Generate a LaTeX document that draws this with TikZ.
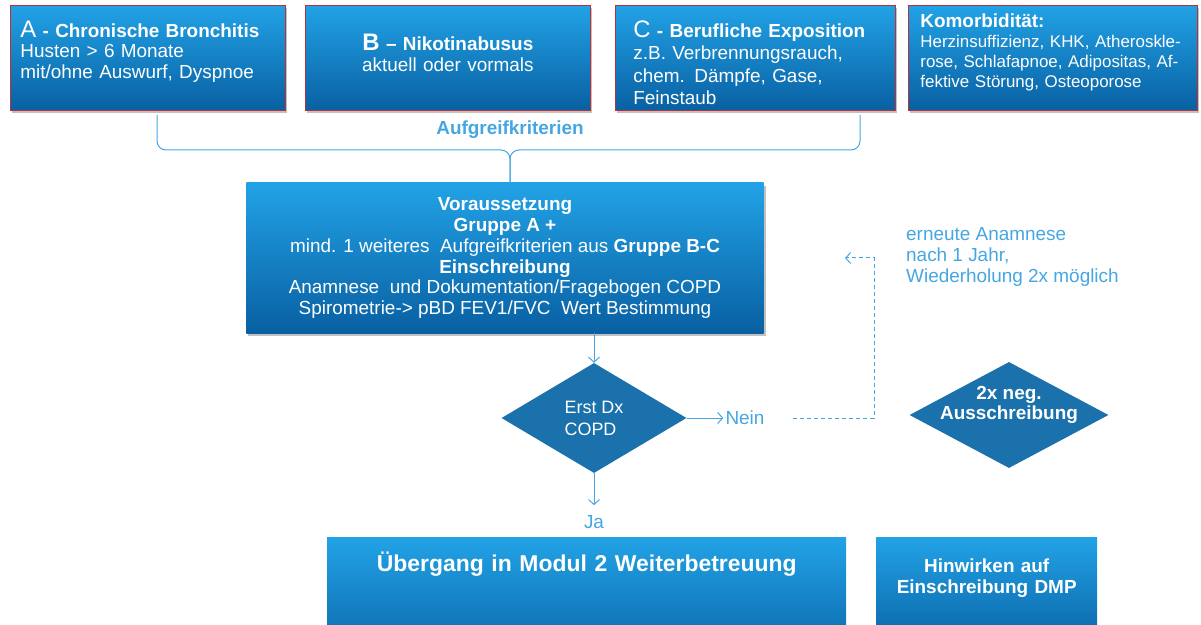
\documentclass[tikz,border=0pt]{standalone}
\usepackage{fontspec}
\setmainfont{Liberation Sans}
\usetikzlibrary{shapes.geometric,shadows,arrows.meta}
\definecolor{boxtop}{HTML}{22A2E6}
\definecolor{boxbot}{HTML}{0860A2}
\definecolor{rhomb}{HTML}{1A71AB}
\definecolor{lineblue}{HTML}{45A6E2}
\definecolor{frame}{HTML}{B5323C}
\tikzset{
  every node/.style={font=\fontsize{19}{21.5}\selectfont},
  bluebox/.style={rectangle, top color=boxtop, bottom color=boxbot, text=white, inner sep=0pt},
  boxshadow/.style={drop shadow={shadow xshift=2bp, shadow yshift=-3bp, opacity=.35, fill=black!70}},
  topbox/.style={bluebox, boxshadow, draw=frame, line width=0.8bp, anchor=north west},
  decision/.style={diamond, fill=rhomb, text=white, inner sep=0pt, align=center},
  note/.style={text=lineblue, inner sep=2bp},
  flow/.style={draw=lineblue, line width=1bp, -{Straight Barb[length=5bp,width=11bp]}},
  feedback/.style={flow, dash pattern=on 4bp off 3bp},
  bracket/.style={draw=lineblue, line width=1bp, rounded corners=9bp}
}
\begin{document}
\begin{tikzpicture}[x=1bp,y=-1bp]
  \useasboundingbox (0,0) rectangle (1201,625);
  \clip (0,0) rectangle (1201,625);
  % Aufgreifkriterien (top row)
  \node[topbox, inner xsep=10bp, text width=255bp, align=left, text height=32bp, text depth=73bp]
    (critA) at (10,5) {{\fontsize{24}{24}\selectfont A} \textbf{- Chronische Bronchitis}\\[-1.5bp]
    Husten > 6 Monate\\mit/ohne Auswurf, Dyspnoe};
  \node[topbox, inner xsep=10bp, text width=265bp, align=center, text height=45bp, text depth=60bp]
    (critB) at (305,5) {{\fontsize{24}{24}\selectfont\bfseries B} \textbf{– Nikotinabusus}\\aktuell oder vormals};
  \node[topbox, inner xsep=18bp, text width=244bp, align=left, text height=32bp, text depth=73bp,
    font=\fontsize{19}{22.5}\selectfont]
    (critC) at (615,5) {{\fontsize{24}{24}\selectfont C} \textbf{- Berufliche Exposition}\\
    z.B. Verbrennungsrauch,\\chem. Dämpfe, Gase,\\Feinstaub};
  \node[topbox, inner xsep=12bp, text width=265bp, align=left, text height=22bp, text depth=83bp,
    font=\fontsize{17}{20}\selectfont]
    (comorb) at (908,5) {{\fontsize{19}{19}\selectfont\bfseries Komorbidität:}\\
    Herzinsuffizienz, KHK, Atheroskle-\\rose, Schlafapnoe, Adipositas, Af-\\fektive Störung, Osteoporose};
  % Brace
  \coordinate (brL) at (157,115);
  \coordinate (brR) at (860,115);
  \coordinate (brM) at (510,150);
  \node[note, font=\fontsize{19}{19}\selectfont\bfseries] (aufgreif) at (510,130) {Aufgreifkriterien};
  % Voraussetzung / Einschreibung
  \node[bluebox, boxshadow, minimum width=517bp, minimum height=150bp, align=center,
    font=\fontsize{19}{21}\selectfont] (main) at (505,258) {\textbf{Voraussetzung}\\
    \textbf{Gruppe A +}\\
    mind. 1 weiteres\ \ Aufgreifkriterien aus \textbf{Gruppe B-C}\\
    \textbf{Einschreibung}\\
    Anamnese\ \ und Dokumentation/Fragebogen COPD\\
    Spirometrie-> pBD FEV1/FVC\ \ Wert Bestimmung};
  \draw[bracket] (brL) -- (brL |- brM) -- (brM) -- (brM |- main.north);
  \draw[bracket] (brR) -- (brR |- brM) -- (brM) -- (brM |- main.north);
  % Decisions
  \node[decision, minimum width=185bp, minimum height=110bp, align=left,
    font=\fontsize{18}{22}\selectfont] (dx) at (594,418) {Erst Dx\\COPD};
  \node[decision, minimum width=199bp, minimum height=106bp,
    label={[text=white, align=center, yshift=10bp, font=\fontsize{19}{20}\selectfont\bfseries]center:2x neg.\\Ausschreibung}]
    (neg) at (1009,415) {};
  \draw[flow] (main.south -| dx.north) -- (dx.north);
  \node[note] (nein) at (745,418) {Nein};
  \draw[flow] (dx.east) -- (dx.east -| nein.west);
  % Wiederholung
  \coordinate (dashA) at (793,418);
  \coordinate (dashB) at (845,258);
  \draw[feedback] (dashA) -- (874,418) -- (874,258) -- (dashB);
  \node[note, anchor=north west, align=left, font=\fontsize{19}{21}\selectfont]
    (redo) at (904,225) {erneute Anamnese\\nach 1 Jahr,\\Wiederholung 2x möglich};
  \node[note] (ja) at (594,522) {Ja};
  \draw[flow, shorten >=8bp] (dx.south) -- (ja.north);
  % Bottom row
  \node[bluebox, anchor=north west, text width=519bp, align=center, text height=34bp, text depth=100bp,
    font=\fontsize{23}{26}\selectfont\bfseries] (modul) at (327,537) {Übergang in Modul 2 Weiterbetreuung};
  \node[bluebox, anchor=north west, text width=221bp, align=center, text height=35bp, text depth=80bp,
    font=\fontsize{19}{21}\selectfont\bfseries] (dmp) at (876,537) {Hinwirken auf\\Einschreibung DMP};
\end{tikzpicture}
\end{document}
